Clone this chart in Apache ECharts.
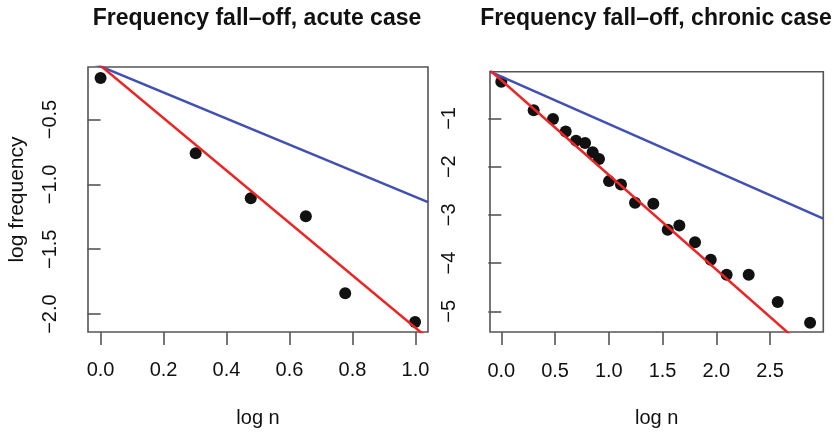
<!DOCTYPE html>
<html>
<head>
<meta charset="utf-8">
<script src="https://cdn.jsdelivr.net/npm/echarts@6/dist/echarts.min.js"></script>
<style>
html,body{margin:0;padding:0;background:#fff;}
#chart{width:836px;height:433px;}
</style>
</head>
<body>
<div id="chart"></div>
<script>
// ---- data ----
const acuteLogN = [0.0, 0.302, 0.477, 0.652, 0.777, 0.999];
const acuteLogFreq = [-0.18, -0.76, -1.107, -1.245, -1.84, -2.06];

const chronicLogN = [0.0, 0.301, 0.481, 0.599, 0.695, 0.779, 0.850, 0.909, 1.002, 1.113,
                     1.244, 1.414, 1.548, 1.656, 1.802, 1.948, 2.096, 2.301, 2.571, 2.872];
const chronicLogFreq = [-0.24, -0.83, -1.01, -1.27, -1.46, -1.51, -1.70, -1.84, -2.30, -2.37,
                        -2.75, -2.77, -3.31, -3.22, -3.57, -3.93, -4.24, -4.24, -4.81, -5.24];

// fitted lines (end points across each panel)
const acuteRedLine = [[-0.04, -0.004], [1.04, -2.186]];
const acuteBlueLine = [[-0.04, -0.05], [1.04, -1.137]];
const chronicRedLine = [[-0.105, 0.0], [2.995, -6.09]];
const chronicBlueLine = [[-0.105, -0.03], [2.995, -3.08]];

// tick labels
const acuteXTicks = [0.0, 0.2, 0.4, 0.6, 0.8, 1.0];
const acuteYTicks = [-2.0, -1.5, -1.0, -0.5];
const chronicXTicks = [0.0, 0.5, 1.0, 1.5, 2.0, 2.5];
const chronicYTicks = [-5, -4, -3, -2, -1];

const titles = ['Frequency fall\u2013off, acute case', 'Frequency fall\u2013off, chronic case'];
const xName = 'log n';
const yName = 'log frequency';

// ---- chart ----
const FONT = "'Liberation Sans', Arial, Helvetica, sans-serif";
const INK = '#111';
const BOX = '#555';
const RED = '#EE2424';
const BLUE = '#4050B4';

const fmtMinus = (s) => s.replace('-', '\u2212');

function xAxisCfg(idx, min, max, ticks, digits, gap, margin, name) {
  return {
    type: 'value', gridIndex: idx, min: min, max: max,
    name: name, nameLocation: 'middle', nameGap: gap,
    nameTextStyle: {fontFamily: FONT, fontSize: 20, color: INK},
    axisLine: {show: false},
    splitLine: {show: false},
    axisTick: {show: true, length: 13, lineStyle: {color: BOX, width: 1.6}, customValues: ticks},
    axisLabel: {fontFamily: FONT, fontSize: 20, color: INK, margin: margin, customValues: ticks,
      formatter: (v) => fmtMinus(Number(v).toFixed(digits))}
  };
}
function yAxisCfg(idx, min, max, ticks, digits, margin, name) {
  return {
    type: 'value', gridIndex: idx, min: min, max: max,
    name: name, nameLocation: 'middle', nameGap: 60, nameRotate: 90,
    nameTextStyle: {fontFamily: FONT, fontSize: 21, color: INK},
    axisLine: {show: false},
    splitLine: {show: false},
    axisTick: {show: true, length: 13, lineStyle: {color: BOX, width: 1.6}, customValues: ticks},
    axisLabel: {fontFamily: FONT, fontSize: 20, color: INK, margin: margin, rotate: 90, customValues: ticks,
      formatter: (v) => fmtMinus(Number(v).toFixed(digits))}
  };
}

const chart = echarts.init(document.getElementById('chart'), null, {renderer: 'canvas'});
chart.setOption({
  animation: false,
  backgroundColor: '#fff',
  graphic: [
    {type: 'text', x: 257, y: 19, style: {text: titles[0], align: 'center', verticalAlign: 'middle',
      font: 'bold 23px ' + FONT, fill: INK}},
    {type: 'text', x: 656, y: 19, style: {text: titles[1], align: 'center', verticalAlign: 'middle',
      font: 'bold 23px ' + FONT, fill: INK}}
  ],
  grid: [
    {left: 88, top: 67, width: 340, height: 267, show: true, borderColor: BOX, borderWidth: 1.6, containLabel: false},
    {left: 490, top: 71.7, width: 333.3, height: 261, show: true, borderColor: BOX, borderWidth: 1.6, containLabel: false}
  ],
  xAxis: [
    xAxisCfg(0, -0.04, 1.04, acuteXTicks, 1, 76, 28, xName),
    xAxisCfg(1, -0.105, 2.995, chronicXTicks, 1, 76, 29, xName)
  ],
  yAxis: [
    yAxisCfg(0, -2.138, -0.095, acuteYTicks, 1, 28, yName),
    yAxisCfg(1, -5.43, -0.03, chronicYTicks, 0, 31, '')
  ],
  series: [
    {type: 'scatter', xAxisIndex: 0, yAxisIndex: 0, symbolSize: 12, itemStyle: {color: INK, opacity: 1},
      data: acuteLogN.map((x, i) => [x, acuteLogFreq[i]]), z: 2},
    {type: 'line', xAxisIndex: 0, yAxisIndex: 0, data: acuteBlueLine, showSymbol: false, clip: true,
      lineStyle: {color: BLUE, width: 2.5}, z: 3},
    {type: 'line', xAxisIndex: 0, yAxisIndex: 0, data: acuteRedLine, showSymbol: false, clip: true,
      lineStyle: {color: RED, width: 2.5}, z: 3},
    {type: 'scatter', xAxisIndex: 1, yAxisIndex: 1, symbolSize: 12, itemStyle: {color: INK, opacity: 1},
      data: chronicLogN.map((x, i) => [x, chronicLogFreq[i]]), z: 2},
    {type: 'line', xAxisIndex: 1, yAxisIndex: 1, data: chronicBlueLine, showSymbol: false, clip: true,
      lineStyle: {color: BLUE, width: 2.5}, z: 3},
    {type: 'line', xAxisIndex: 1, yAxisIndex: 1, data: chronicRedLine, showSymbol: false, clip: true,
      lineStyle: {color: RED, width: 2.5}, z: 3}
  ]
});
</script>
</body>
</html>
